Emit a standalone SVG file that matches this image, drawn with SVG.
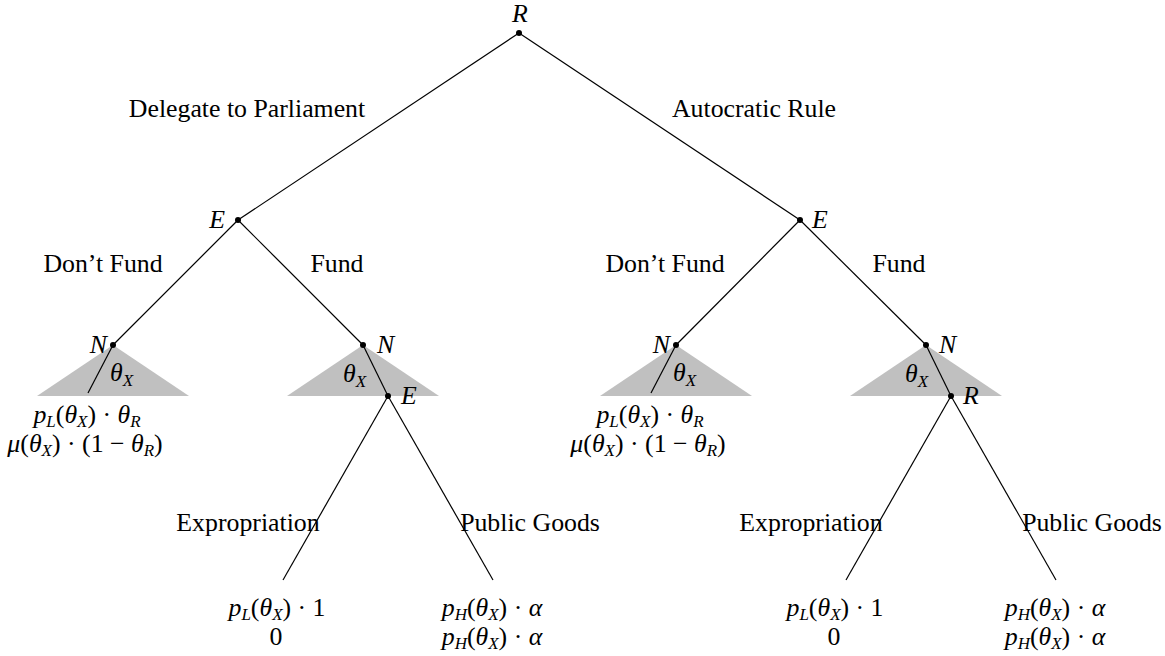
<svg xmlns="http://www.w3.org/2000/svg" width="1165" height="656" viewBox="0 0 1165 656">
<style>
text{font-family:"Liberation Serif","Times New Roman",serif;font-size:25.8px;fill:#000}
.i{font-style:italic}
.s{font-size:17px;font-style:italic}
.c{text-anchor:middle}
.e{text-anchor:end}
.tri{fill:#c0c0c0;stroke:none}
.ln{stroke:#000;stroke-width:1.2;fill:none}
.dot{fill:#000}
</style>
<rect width="1165" height="656" fill="#fff"/>
<g id="triangles">
<polygon class="tri" points="113,345 37,396 189,396"/>
<polygon class="tri" points="363,345 287,396 439,396"/>
<polygon class="tri" points="676,345 600,396 752,396"/>
<polygon class="tri" points="926,345 850,396 1002,396"/>
</g>
<g id="connectors" class="ln">
<line x1="519" y1="33" x2="238" y2="220"/>
<line x1="519" y1="33" x2="800" y2="220"/>
<line x1="238" y1="220" x2="113" y2="345"/>
<line x1="238" y1="220" x2="363" y2="345"/>
<line x1="800" y1="220" x2="676" y2="345"/>
<line x1="800" y1="220" x2="926" y2="345"/>
<line x1="113" y1="345" x2="88" y2="393"/>
<line x1="676" y1="345" x2="651" y2="393"/>
<line x1="363" y1="345" x2="388" y2="396"/>
<line x1="926" y1="345" x2="951" y2="396"/>
<line x1="388" y1="396" x2="283" y2="580"/>
<line x1="388" y1="396" x2="493" y2="580"/>
<line x1="951" y1="396" x2="846" y2="580"/>
<line x1="951" y1="396" x2="1056" y2="580"/>
</g>
<g id="edge-labels">
<text class="c" x="247" y="117">Delegate to Parliament</text>
<text class="c" x="754" y="117">Autocratic Rule</text>
<text class="c" x="103" y="272">Don’t Fund</text>
<text class="c" x="337" y="272">Fund</text>
<text class="c" x="665" y="272">Don’t Fund</text>
<text class="c" x="899" y="272">Fund</text>
<text class="c" x="248" y="531">Expropriation</text>
<text class="c" x="530" y="531">Public Goods</text>
<text class="c" x="811" y="531">Expropriation</text>
<text class="c" x="1092" y="531">Public Goods</text>
</g>
<g id="node-R">
<circle class="dot" cx="519" cy="33" r="3"/>
<text class="i c" x="520" y="22">R</text>
</g>
<g id="node-E-left">
<circle class="dot" cx="238" cy="220" r="3"/>
<text class="i e" x="225" y="228">E</text>
</g>
<g id="node-E-right">
<circle class="dot" cx="800" cy="220" r="3"/>
<text class="i" x="812" y="228">E</text>
</g>
<g id="node-N1">
<circle class="dot" cx="113" cy="345" r="3"/>
<text class="i e" x="107" y="353">N</text>
<text x="110" y="381"><tspan class="i">θ</tspan><tspan class="s" dy="5">X</tspan></text>
</g>
<g id="node-N2">
<circle class="dot" cx="363" cy="345" r="3"/>
<text class="i" x="377" y="353">N</text>
<text x="343" y="382"><tspan class="i">θ</tspan><tspan class="s" dy="5">X</tspan></text>
</g>
<g id="node-N3">
<circle class="dot" cx="676" cy="345" r="3"/>
<text class="i e" x="670" y="353">N</text>
<text x="673" y="381"><tspan class="i">θ</tspan><tspan class="s" dy="5">X</tspan></text>
</g>
<g id="node-N4">
<circle class="dot" cx="926" cy="345" r="3"/>
<text class="i" x="939" y="353">N</text>
<text x="905" y="382"><tspan class="i">θ</tspan><tspan class="s" dy="5">X</tspan></text>
</g>
<g id="node-E3">
<circle class="dot" cx="388" cy="396" r="3"/>
<text class="i" x="401" y="404">E</text>
</g>
<g id="node-R3">
<circle class="dot" cx="951" cy="396" r="3"/>
<text class="i" x="963" y="404">R</text>
</g>
<g id="payoff-1">
<text class="c" x="87" y="423"><tspan class="i">p</tspan><tspan class="s" dy="4">L</tspan><tspan dy="-4">(</tspan><tspan class="i">θ</tspan><tspan class="s" dy="4">X</tspan><tspan dy="-4">) · </tspan><tspan class="i">θ</tspan><tspan class="s" dy="4">R</tspan></text>
<text class="c" x="85" y="452"><tspan class="i">μ</tspan>(<tspan class="i">θ</tspan><tspan class="s" dy="4">X</tspan><tspan dy="-4">) · (1 − </tspan><tspan class="i">θ</tspan><tspan class="s" dy="4">R</tspan><tspan dy="-4">)</tspan></text>
</g>
<g id="payoff-2">
<text class="c" x="650" y="423"><tspan class="i">p</tspan><tspan class="s" dy="4">L</tspan><tspan dy="-4">(</tspan><tspan class="i">θ</tspan><tspan class="s" dy="4">X</tspan><tspan dy="-4">) · </tspan><tspan class="i">θ</tspan><tspan class="s" dy="4">R</tspan></text>
<text class="c" x="648" y="452"><tspan class="i">μ</tspan>(<tspan class="i">θ</tspan><tspan class="s" dy="4">X</tspan><tspan dy="-4">) · (1 − </tspan><tspan class="i">θ</tspan><tspan class="s" dy="4">R</tspan><tspan dy="-4">)</tspan></text>
</g>
<g id="payoff-3">
<text class="c" x="277" y="616"><tspan class="i">p</tspan><tspan class="s" dy="4">L</tspan><tspan dy="-4">(</tspan><tspan class="i">θ</tspan><tspan class="s" dy="4">X</tspan><tspan dy="-4">) · 1</tspan></text>
<text class="c" x="276" y="645">0</text>
</g>
<g id="payoff-4">
<text class="c" x="492" y="616"><tspan class="i">p</tspan><tspan class="s" dy="4">H</tspan><tspan dy="-4">(</tspan><tspan class="i">θ</tspan><tspan class="s" dy="4">X</tspan><tspan dy="-4">) · </tspan><tspan class="i">α</tspan></text>
<text class="c" x="492" y="645"><tspan class="i">p</tspan><tspan class="s" dy="4">H</tspan><tspan dy="-4">(</tspan><tspan class="i">θ</tspan><tspan class="s" dy="4">X</tspan><tspan dy="-4">) · </tspan><tspan class="i">α</tspan></text>
</g>
<g id="payoff-5">
<text class="c" x="835" y="616"><tspan class="i">p</tspan><tspan class="s" dy="4">L</tspan><tspan dy="-4">(</tspan><tspan class="i">θ</tspan><tspan class="s" dy="4">X</tspan><tspan dy="-4">) · 1</tspan></text>
<text class="c" x="834" y="645">0</text>
</g>
<g id="payoff-6">
<text class="c" x="1055" y="616"><tspan class="i">p</tspan><tspan class="s" dy="4">H</tspan><tspan dy="-4">(</tspan><tspan class="i">θ</tspan><tspan class="s" dy="4">X</tspan><tspan dy="-4">) · </tspan><tspan class="i">α</tspan></text>
<text class="c" x="1055" y="645"><tspan class="i">p</tspan><tspan class="s" dy="4">H</tspan><tspan dy="-4">(</tspan><tspan class="i">θ</tspan><tspan class="s" dy="4">X</tspan><tspan dy="-4">) · </tspan><tspan class="i">α</tspan></text>
</g>
</svg>
